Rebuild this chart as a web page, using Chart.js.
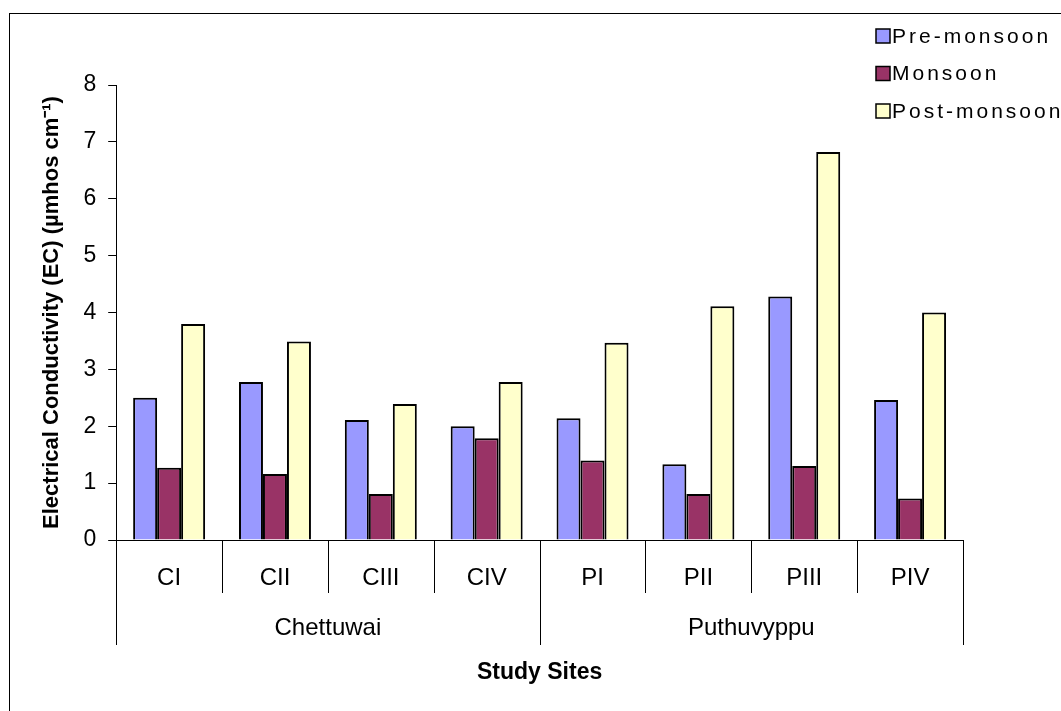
<!DOCTYPE html>
<html>
<head>
<meta charset="utf-8">
<script src="https://cdn.jsdelivr.net/npm/chart.js@4"></script>
<style>
  html, body { margin: 0; padding: 0; background: #fff; overflow: hidden; }
  #wrap { position: relative; width: 1061px; height: 711px; }
  #frame {
    position: absolute; left: 9px; top: 13px; width: 1100px; height: 800px;
    border: 1.5px solid #000; box-sizing: border-box;
  }
  canvas { position: absolute; left: 0; top: 0; }
</style>
</head>
<body>
<div id="wrap">
  <div id="frame"></div>
  <canvas id="ecChart" width="1061" height="711"></canvas>
</div>
<script>
const sites = ['CI', 'CII', 'CIII', 'CIV', 'PI', 'PII', 'PIII', 'PIV'];
const groups = ['Chettuwai', 'Puthuvyppu'];
const seasons = ['Pre-monsoon', 'Monsoon', 'Post-monsoon'];
const preMonsoon = [2.50, 2.78, 2.11, 2.00, 2.14, 1.33, 4.28, 2.46];
const monsoon = [1.27, 1.16, 0.81, 1.79, 1.40, 0.81, 1.30, 0.73];
const postMonsoon = [3.80, 3.49, 2.39, 2.78, 3.47, 4.11, 6.82, 4.00];
const yMin = 0;
const yMax = 8;
const yStep = 1;

const colors = ['#9999ff', '#993366', '#ffffcc'];
const FONT = '"Liberation Sans", Arial, sans-serif';

// category separators below the axis: short ones per site, long ones per location
const separators = {
  id: 'separators',
  afterDraw(chart) {
    const { ctx, chartArea } = chart;
    const x = chart.scales.x;
    const x2 = chart.scales.x2;
    const edges = (scale, n) => {
      const out = [];
      for (let i = 0; i <= n; i++) {
        if (i === 0) out.push(scale.left);
        else if (i === n) out.push(scale.right);
        else out.push((scale.getPixelForValue(i - 1) + scale.getPixelForValue(i)) / 2);
      }
      return out;
    };
    const top = chartArea.bottom;
    ctx.save();
    ctx.strokeStyle = '#000';
    ctx.lineWidth = 1;
    edges(x, sites.length).forEach((px) => {
      const xx = Math.round(px) + 0.5;
      ctx.beginPath();
      ctx.moveTo(xx, top);
      ctx.lineTo(xx, top + 53);
      ctx.stroke();
    });
    edges(x2, groups.length).forEach((px) => {
      const xx = Math.round(px) + 0.5;
      ctx.beginPath();
      ctx.moveTo(xx, top);
      ctx.lineTo(xx, top + 105);
      ctx.stroke();
    });
    ctx.restore();
  },
};

// legend sits over the top right corner, outside the normal layout
const sideLegend = {
  id: 'sideLegend',
  afterDraw(chart) {
    const { ctx } = chart;
    ctx.save();
    ctx.font = `21px ${FONT}`;
    ctx.letterSpacing = '3px';
    ctx.textBaseline = 'middle';
    chart.data.datasets.forEach((ds, i) => {
      const cy = 36 + i * 37.5;
      ctx.fillStyle = ds.backgroundColor;
      ctx.fillRect(876, cy - 7, 14, 14);
      ctx.strokeStyle = '#000';
      ctx.lineWidth = 1.5;
      ctx.strokeRect(876, cy - 7, 14, 14);
      ctx.fillStyle = '#000';
      ctx.fillText(ds.label, 892, cy + 1);
    });
    ctx.restore();
  },
};

const seriesValues = [preMonsoon, monsoon, postMonsoon];

new Chart(document.getElementById('ecChart'), {
  type: 'bar',
  data: {
    labels: sites,
    datasets: seasons.map((label, i) => ({
      label,
      data: seriesValues[i],
      backgroundColor: colors[i],
      borderColor: '#000',
      borderWidth: 2,
      barPercentage: 1,
      categoryPercentage: 0.68,
    })),
  },
  options: {
    responsive: false,
    animation: false,
    devicePixelRatio: 1,
    layout: { padding: { left: 35, right: 98, top: 85, bottom: 21 } },
    plugins: {
      legend: { display: false },
      tooltip: { enabled: false },
    },
    scales: {
      x: {
        offset: true,
        grid: { display: true, drawOnChartArea: false, color: 'transparent', tickLength: 23.6 },
        border: { color: '#000', width: 1 },
        ticks: { color: '#000', font: { family: FONT, size: 24 }, padding: 0, maxRotation: 0 },
      },
      x2: {
        type: 'category',
        labels: groups,
        position: 'bottom',
        offset: true,
        grid: { display: true, drawOnChartArea: false, color: 'transparent', tickLength: 21.2 },
        border: { display: false },
        ticks: { color: '#000', font: { family: FONT, size: 24 }, padding: 0, maxRotation: 0 },
        title: {
          display: true,
          text: 'Study Sites',
          color: '#000',
          font: { family: FONT, size: 23, weight: 'bold' },
          padding: { top: 16, bottom: 4 },
        },
      },
      y: {
        min: yMin,
        max: yMax,
        ticks: { stepSize: yStep, color: '#000', font: { family: FONT, size: 23 }, padding: 12 },
        grid: { drawOnChartArea: false, tickLength: 8, color: '#000' },
        border: { color: '#000', width: 1 },
        title: {
          display: true,
          text: 'Electrical Conductivity (EC) (µmhos cm⁻¹)',
          color: '#000',
          font: { family: FONT, size: 22, weight: 'bold' },
          padding: { top: 4, bottom: 6 },
        },
      },
    },
  },
  plugins: [separators, sideLegend],
});
</script>
</body>
</html>
